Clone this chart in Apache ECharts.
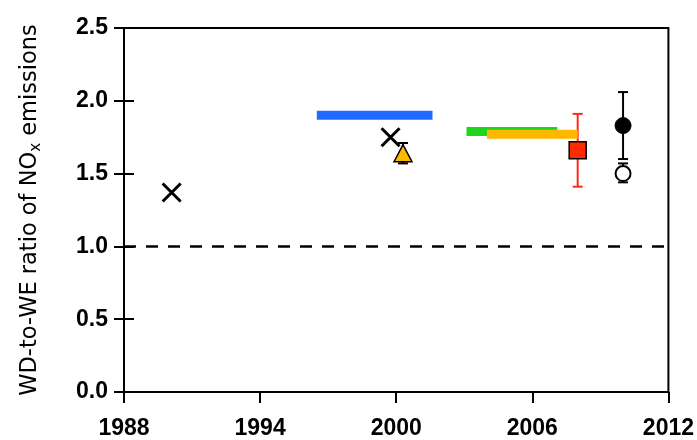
<!DOCTYPE html>
<html><head><meta charset="utf-8">
<script src="https://cdn.jsdelivr.net/npm/echarts@6/dist/echarts.min.js"></script>
<style>html,body{margin:0;padding:0;background:#fff}#c{width:697px;height:440px}</style>
</head><body><div id="c"></div>
<script>
// Data
const xTicks = [1988, 1994, 2000, 2006, 2012];
const yTicks = [0, 0.5, 1.0, 1.5, 2.0, 2.5];
const crossPts = [[1990.1, 1.37], [1999.75, 1.75]];
const trianglePt = [2000.3, 1.64];
const triangleErr = [1.57, 1.71];
const squarePt = [2008.0, 1.66];
const squareErr = [1.41, 1.91];
const filledCirclePt = [2010.0, 1.83];
const filledCircleErr = [1.60, 2.06];
const openCirclePt = [2010.0, 1.50];
const openCircleErr = [1.44, 1.57];
// horizontal range bars: [start, end, value]
const blueBar = [1996.5, 2001.6, 1.90];
const greenBar = [2003.1, 2007.1, 1.79];
const orangeBar = [2004.0, 2008.0, 1.77];
const refLine = 1.0;

const chart = echarts.init(document.getElementById('c'), null, {renderer: 'canvas'});
const FONT = '"Liberation Sans", Arial, sans-serif';

function rangeBar(data, color) {
  return {
    type: 'custom',
    data: [data],
    z: 3,
    renderItem: function (params, api) {
      const p1 = api.coord([api.value(0), api.value(2)]);
      const p2 = api.coord([api.value(1), api.value(2)]);
      const h = 9;
      return {type: 'rect', shape: {x: p1[0], y: p1[1] - h / 2, width: p2[0] - p1[0], height: h},
        style: {fill: color}};
    }
  };
}
function errBar(pt, err, color) {
  return {
    type: 'custom',
    data: [[pt[0], err[0], err[1]]],
    z: 2,
    renderItem: function (params, api) {
      const lo = api.coord([api.value(0), api.value(1)]);
      const hi = api.coord([api.value(0), api.value(2)]);
      const w = 5;
      return {type: 'group', children: [
        {type: 'line', shape: {x1: lo[0], y1: lo[1], x2: hi[0], y2: hi[1]}, style: {stroke: color, lineWidth: 2}},
        {type: 'line', shape: {x1: lo[0] - w, y1: lo[1], x2: lo[0] + w, y2: lo[1]}, style: {stroke: color, lineWidth: 2}},
        {type: 'line', shape: {x1: hi[0] - w, y1: hi[1], x2: hi[0] + w, y2: hi[1]}, style: {stroke: color, lineWidth: 2}}
      ]};
    }
  };
}

const option = {
  animation: false,
  grid: {left: 124, right: 28, top: 28, bottom: 46, show: true, borderColor: '#000', borderWidth: 2},
  xAxis: {
    type: 'value', min: xTicks[0], max: xTicks[xTicks.length - 1], interval: 6,
    axisLine: {show: true, lineStyle: {color: '#000', width: 2}},
    axisTick: {show: true, inside: false, length: 11, lineStyle: {color: '#000', width: 2}},
    axisLabel: {color: '#000', fontFamily: FONT, fontWeight: 'bold', fontSize: 23, margin: 25,
      formatter: v => String(v)},
    splitLine: {show: false}
  },
  yAxis: [{
    type: 'value', min: yTicks[0], max: yTicks[yTicks.length - 1], interval: 0.5,
    axisLine: {show: true, lineStyle: {color: '#000', width: 2}},
    axisTick: {show: true, inside: false, length: 10, lineStyle: {color: '#000', width: 2}},
    axisLabel: {color: '#000', fontFamily: FONT, fontWeight: 'bold', fontSize: 23, margin: 16,
      formatter: v => v.toFixed(1)},
    splitLine: {show: false},
    name: '{a|WD-to-WE ratio of NO}{b|x}{a| emissions}',
    nameLocation: 'middle', nameRotate: 90, nameGap: 80,
    nameTextStyle: {rich: {
      a: {fontFamily: '"DejaVu Sans", sans-serif', fontSize: 22.5, color: '#000'},
      b: {fontFamily: '"DejaVu Sans", sans-serif', fontSize: 15, color: '#000', padding: [12, 0, 0, 0]}
    }}
  }, {
    type: 'value', position: 'left', min: yTicks[0], max: yTicks[yTicks.length - 1], interval: 0.5,
    axisLine: {show: false},
    axisTick: {show: true, inside: true, length: 10, lineStyle: {color: '#000', width: 2}},
    axisLabel: {show: false}, splitLine: {show: false}
  }],
  series: [
    {type: 'line', data: [], markLine: {silent: true, symbol: 'none', label: {show: false},
      lineStyle: {color: '#000', type: [12, 10], width: 2.5}, data: [{yAxis: refLine}]}},
    rangeBar(blueBar, '#1f6bff'),
    rangeBar(greenBar, '#1ed41e'),
    rangeBar(orangeBar, '#ffb800'),
    errBar(trianglePt, triangleErr, '#000'),
    errBar(squarePt, squareErr, '#ff2a1a'),
    errBar(filledCirclePt, filledCircleErr, '#000'),
    errBar(openCirclePt, openCircleErr, '#000'),
    {type: 'scatter', data: crossPts, z: 5, symbol: 'path://M0,0L10,10M10,0L0,10', symbolSize: 18,
      itemStyle: {color: 'none', borderColor: '#000', borderWidth: 3, opacity: 1}},
    {type: 'scatter', data: [trianglePt], z: 5, symbol: 'triangle', symbolSize: [18, 17],
      itemStyle: {color: '#ffb800', borderColor: '#000', borderWidth: 1.5, opacity: 1}},
    {type: 'scatter', data: [squarePt], z: 5, symbol: 'rect', symbolSize: 17,
      itemStyle: {color: '#ff2a00', borderColor: '#000', borderWidth: 1.5, opacity: 1}},
    {type: 'scatter', data: [filledCirclePt], z: 5, symbol: 'circle', symbolSize: 16,
      itemStyle: {color: '#000', borderColor: '#000', borderWidth: 1, opacity: 1}},
    {type: 'scatter', data: [openCirclePt], z: 5, symbol: 'circle', symbolSize: 15,
      itemStyle: {color: '#fff', borderColor: '#000', borderWidth: 2, opacity: 1}}
  ]
};
chart.setOption(option);
</script></body></html>
